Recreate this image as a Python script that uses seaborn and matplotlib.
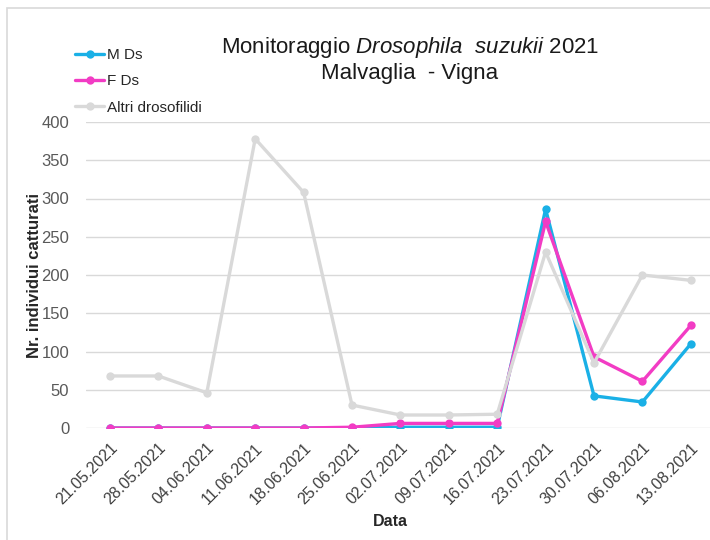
import matplotlib
matplotlib.use("Agg")
import matplotlib.pyplot as plt
import seaborn as sns
import pandas as pd
from matplotlib.patches import Rectangle

dates = ['21.05.2021', '28.05.2021', '04.06.2021', '11.06.2021', '18.06.2021',
         '25.06.2021', '02.07.2021', '09.07.2021', '16.07.2021', '23.07.2021',
         '30.07.2021', '06.08.2021', '13.08.2021']
m_ds = [0, 0, 0, 0, 0, 0, 1, 1, 1, 286, 42, 34, 110]
f_ds = [0, 0, 0, 0, 0, 1, 6, 6, 6, 270, 93, 61, 134]
altri = [68, 68, 46, 378, 308, 30, 17, 17, 18, 230, 85, 200, 193]
series_names = ['M Ds', 'F Ds', 'Altri drosofilidi']
yticks = [0, 50, 100, 150, 200, 250, 300, 350, 400]

sns.set_theme(style="white")
plt.rcParams['font.family'] = ['Liberation Sans', 'DejaVu Sans']
plt.rcParams['mathtext.fontset'] = 'custom'
plt.rcParams['mathtext.it'] = 'Liberation Sans:italic'
plt.rcParams['mathtext.rm'] = 'Liberation Sans'

rows = []
for name, vals in zip(series_names, [m_ds, f_ds, altri]):
    for d, v in zip(dates, vals):
        rows.append({'Data': d, 'Valore': v, 'Serie': name})
df = pd.DataFrame(rows)

palette = {'M Ds': '#1AB0E6', 'F Ds': '#F23CC4', 'Altri drosofilidi': '#D9D9D9'}

fig = plt.figure(figsize=(7.1, 5.4), dpi=100)
ax = fig.add_axes([85.8 / 710, 112 / 540, 629.2 / 710, 306 / 540])

sns.lineplot(data=df, x='Data', y='Valore', hue='Serie', hue_order=series_names,
             palette=palette, marker='o', markersize=6, markeredgewidth=0,
             linewidth=2.4, sort=False, ax=ax)

ax.set_xlim(-0.5, len(dates) - 0.5)
ax.set_ylim(0, 400)
ax.set_yticks(yticks)
ax.grid(axis='y', color='#D9D9D9', linewidth=1.0)
ax.grid(axis='x', visible=False)
ax.set_axisbelow(True)
for s in ax.spines.values():
    s.set_visible(False)

ax.tick_params(axis='y', length=0, pad=12, labelsize=12, labelcolor='#595959')
ax.tick_params(axis='x', length=0, pad=9, labelsize=11.5, labelcolor='#404040')
for lab in ax.get_xticklabels():
    lab.set_rotation(45)
    lab.set_ha('right')
    lab.set_va('top')
    lab.set_rotation_mode('anchor')

ax.set_xlabel('')
ax.set_ylabel('Nr. individui catturati', fontsize=12, fontweight='bold', color='#262626')
ax.yaxis.set_label_coords((35 - 85.8) / 629.2, 0.5)
ax.yaxis.label.set_va('center')

fig.text(390 / 710, 1 - 522 / 540, 'Data', ha='center', va='center',
         fontsize=11.5, fontweight='bold', color='#262626')

fig.text(410 / 710, 1 - 48 / 540, r'Monitoraggio $\it{Drosophila}$  $\it{suzukii}$ 2021',
         ha='center', va='center', fontsize=16, color='#1a1a1a')
fig.text(410 / 710, 1 - 74 / 540, 'Malvaglia  - Vigna',
         ha='center', va='center', fontsize=16, color='#1a1a1a')

handles, labels = ax.get_legend_handles_labels()
ax.get_legend().remove()
fig.legend(handles, labels, loc='upper left', bbox_to_anchor=(69 / 710, 1 - 42 / 540),
           frameon=False, fontsize=11, handlelength=1.9, handletextpad=0.2,
           labelspacing=0.8, borderpad=0.4, borderaxespad=0)

fig.patches.append(Rectangle((7 / 710, -0.1), 1.2, (540 - 8) / 540 + 0.1,
                             transform=fig.transFigure, fill=False,
                             edgecolor='#D9D9D9', linewidth=1.2))

fig.savefig('out.png', dpi=100)
